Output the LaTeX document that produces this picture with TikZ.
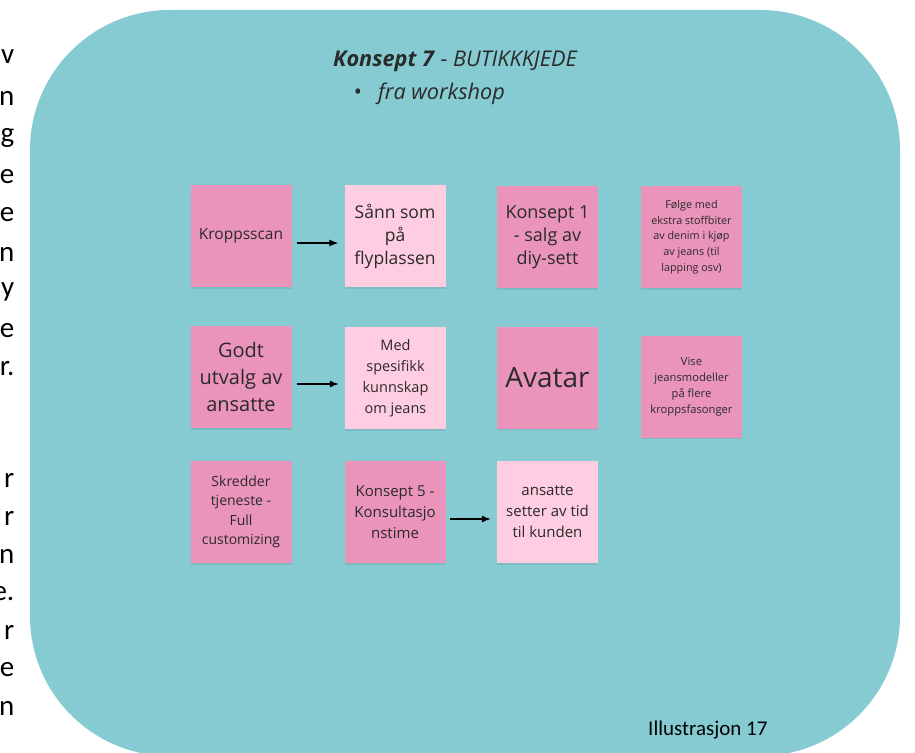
\documentclass[tikz,border=0pt]{standalone}
\usepackage{fontspec}
\setmainfont{Open Sans}
\newfontfamily\bodyfont{Carlito}
\usetikzlibrary{arrows.meta}
\definecolor{boardteal}{HTML}{86CBD2}
\definecolor{notepink}{HTML}{EA94BB}
\definecolor{notelight}{HTML}{FFCDE1}
\definecolor{notetext}{HTML}{2A2A2A}
\newcommand{\fs}[2]{\fontsize{#1}{#2}\selectfont}
\tikzset{
  stickynote/.style={minimum width=101pt, minimum height=102pt, inner sep=0pt,
    fill=notepink, text=notetext, align=center,
    drop shadow note},
  lightnote/.style={stickynote, fill=notelight},
  drop shadow note/.style={preaction={fill=black, opacity=0.08, transform canvas={yshift=-1.5pt}}},
  flow/.style={-{Latex[length=9pt,width=7pt]}, line width=1.1pt, black},
  margintext/.style={anchor=east, inner sep=0pt, font=\bodyfont\fs{29}{34}, text=black}
}
\begin{document}
\begin{tikzpicture}[x=1pt, y=-1pt]
\useasboundingbox (0,0) rectangle (915,752);
\fill[white] (0,0) rectangle (915,752);

% text column cut at the left edge of the page
\begin{scope}
\clip (0,0) rectangle (915,752);
\foreach \ch/\yy in {v/57, n/98, g/138, e/177, e/215, n/254, y/292, e/331, r./369,
                     r/480, r/518, n/556, e./594, r/632, e/670, n/708}
  \node[margintext] at (14.5,\yy) {\ch};
\end{scope}

% board
\fill[boardteal, rounded corners=140pt] (30,10) rectangle (900,756);

% heading
\node[anchor=west, inner sep=0pt, text=notetext, font=\fs{21.7}{26}] (title) at (333,61)
  {\textbf{\textit{Konsept 7}}\textit{ - BUTIKKKJEDE}};
\node[inner sep=0pt, text=notetext, font=\fs{21.7}{26}] (bullet) at (358,94) {•};
\node[anchor=west, inner sep=0pt, text=notetext, font=\fs{21.7}{26}] (sub) at (378,94)
  {\textit{fra workshop}};

% row 1
\node[stickynote, font=\fs{15.5}{20}] (scan) at (241,236) {Kroppsscan};
\node[lightnote, font=\fs{17.5}{23}] (fly) at (395,236) {Sånn som\\på\\flyplassen};
\node[stickynote, font=\fs{18}{23}] (k1) at (547.5,237) {Konsept 1\\- salg av\\diy-sett};
\node[stickynote, font=\fs{10.8}{15.8}] (extra) at (691.5,237)
  {Følge med\\ekstra stoffbiter\\av denim i kjøp\\av jeans (til\\lapping osv)};

% row 2
\node[stickynote, font=\fs{20}{27}] (staff) at (241,377) {Godt\\utvalg av\\ansatte};
\node[lightnote, font=\fs{14.5}{21}] (know) at (395.5,378) {Med\\spesifikk\\kunnskap\\om jeans};
\node[stickynote, font=\fs{28}{34}] (avatar) at (547.5,377.5) {Avatar};
\node[stickynote, font=\fs{11.2}{16}] (models) at (691.5,386.5)
  {Vise\\jeansmodeller\\på flere\\kroppsfasonger};

% row 3
\node[stickynote, font=\fs{14}{19.5}] (tailor) at (241,512) {Skredder\\tjeneste -\\Full\\customizing};
\node[stickynote, font=\fs{15}{21}] (k5) at (395,512) {Konsept 5 -\\Konsultasjo\\nstime};
\node[lightnote, font=\fs{15}{21}] (time) at (547.5,512) {ansatte\\setter av tid\\til kunden};

% links
\draw[flow, shorten <=5pt, shorten >=6pt] (scan.east |- 0,243) -- (fly.west |- 0,243);
\draw[flow, shorten <=5pt, shorten >=6pt] (staff.east |- 0,384) -- (know.west |- 0,384);
\draw[flow, shorten <=4pt, shorten >=6pt] (k5.east |- 0,519) -- (time.west |- 0,519);

% caption
\node[anchor=west, inner sep=0pt, font=\bodyfont\fs{21}{26}, text=black] (caption) at (648,730) {Illustrasjon 17};
\end{tikzpicture}
\end{document}
